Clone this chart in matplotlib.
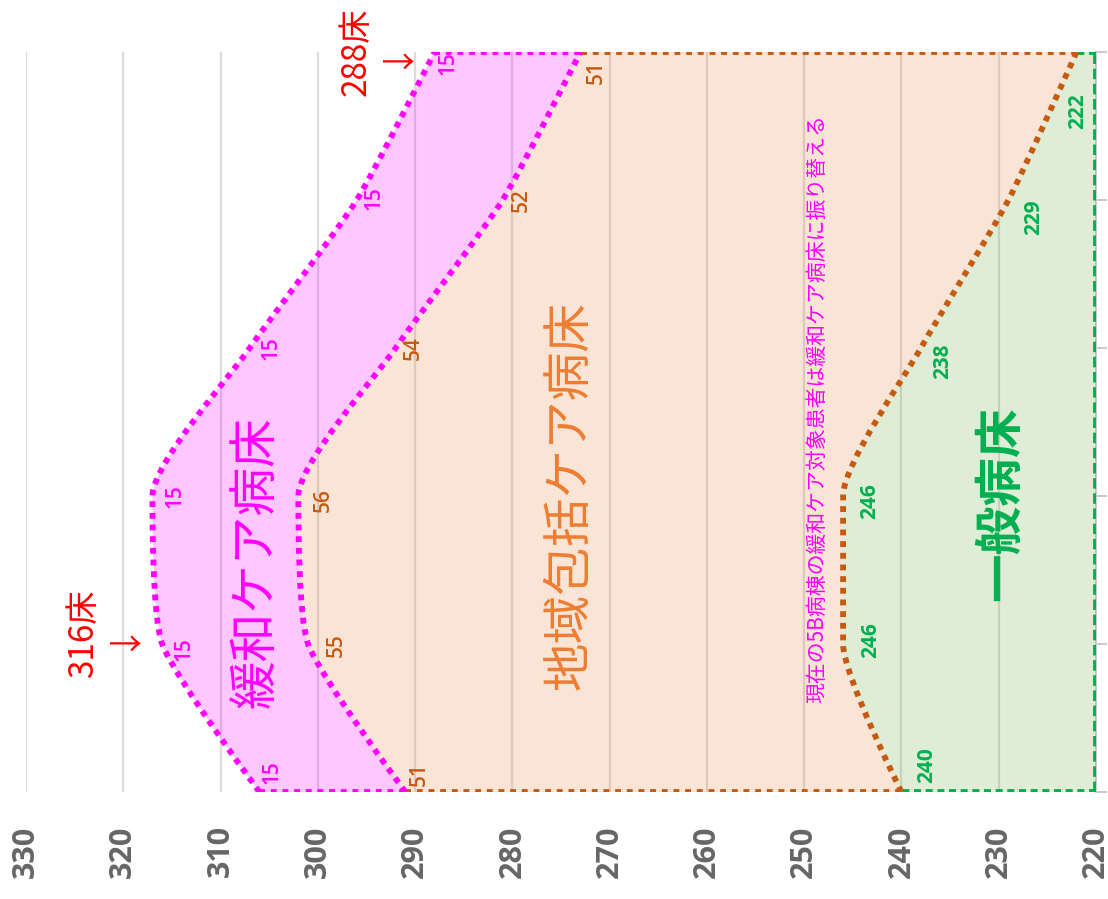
"""
Bed plan chart (stacked smooth areas, drawn rotated: value axis runs along the bottom).
Saved as: out.png
"""
import numpy as np
import matplotlib
matplotlib.use("Agg")
import matplotlib.pyplot as plt
from matplotlib.path import Path
from matplotlib.patches import PathPatch

CJK = ["Noto Sans CJK JP", "DejaVu Sans"]
NUM = ["Open Sans", "DejaVu Sans"]

# ── data ────────────────────────────────────────────────────────────────
SLOTS      = [0, 1, 2, 3, 4, 5]            # category slots, first one at the bottom
GENERAL    = [240, 246, 246, 238, 229, 222]
COMMUNITY  = [51, 55, 56, 54, 52, 51]
PALLIATIVE = [15, 15, 15, 15, 15, 15]
X_TICKS    = [330, 320, 310, 300, 290, 280, 270, 260, 250, 240, 230, 220]
TOTAL_MARKS = [1, 5]                        # slots that get the "N床" callout

NAMES = ["一般病床", "地域包括ケア病床", "緩和ケア病床"]
NOTE  = "現在の5B病棟の緩和ケア対象患者は緩和ケア病床に振り替える"

# ── style ───────────────────────────────────────────────────────────────
MAGENTA = "#FF00FF"
BROWN   = "#C55A11"
ORANGE  = "#ED7D31"
GREEN   = "#00B050"
FILL_G  = (0x70 / 255, 0xAD / 255, 0x47 / 255, 0.22)
FILL_C  = (0xE8 / 255, 0x80 / 255, 0x40 / 255, 0.21)
FILL_P  = (1.0, 0.0, 1.0, 0.22)
GRID    = "#DCDCDC"
TICK_C  = "#666666"
SMOOTH  = 0.2

# value-label offsets in pixels (right, down) for each slot
OFF_P = [(13, -20), (22, 5), (23, 0), (21, 0), (17, -2), (13, 11)]
OFF_C = [(14, -18), (28, 1), (25, 4), (18, 0), (19, 0), (16, 20)]
OFF_G = [(25, -27), (28, -4), (27, 5), (22, 13), (25, 17), (1, 59)]

W, H = 1108, 899
fig = plt.figure(figsize=(W / 100, H / 100), dpi=100, facecolor="white")
L, R, T, B = 26, 1096, 52, 792
ax = fig.add_axes([L / W, (H - B) / H, (R - L) / W, (B - T) / H])
ax.set_xlim(330, 220)
ax.set_ylim(SLOTS[0], SLOTS[-1])

base = np.full(len(SLOTS), 220.0)
lvl1 = np.array(GENERAL, float)
lvl2 = lvl1 + np.array(COMMUNITY)
lvl3 = lvl2 + np.array(PALLIATIVE)
ys = np.array(SLOTS, float)


def smooth_segments(xs):
    """ECharts-like bezier smoothing, worked out in pixel space."""
    pts = ax.transData.transform(np.column_stack([xs, ys]))
    segs = []
    cp0 = pts[0]
    for i in range(1, len(pts)):
        prev, cur = pts[i - 1], pts[i]
        if i == len(pts) - 1:
            cp1, ncp0 = cur, None
        else:
            nxt = pts[i + 1]
            v = nxt - prev
            lp = np.hypot(*(cur - prev))
            ln = np.hypot(*(nxt - cur))
            r = ln / (ln + lp)
            ncp0 = cur + v * SMOOTH * r
            ncp0 = np.maximum(np.minimum(ncp0, np.maximum(nxt, cur)), np.minimum(nxt, cur))
            cp1 = cur - (ncp0 - cur) * lp / ln
            cp1 = np.maximum(np.minimum(cp1, np.maximum(prev, cur)), np.minimum(prev, cur))
            ncp0 = cur + (cur - cp1) * ln / lp
        segs.append((cp0, cp1, cur))
        cp0 = ncp0
    inv = ax.transData.inverted()
    start = inv.transform(pts[0])
    return start, [tuple(inv.transform(p) for p in s) for s in segs]


def curve_path(xs):
    start, segs = smooth_segments(xs)
    verts, codes = [start], [Path.MOVETO]
    for c0, c1, p in segs:
        verts += [c0, c1, p]
        codes += [Path.CURVE4] * 3
    return verts, codes


def area_path(lo, hi):
    verts, codes = curve_path(hi)
    start, segs = smooth_segments(lo)
    pts = [start] + [s[2] for s in segs]
    verts.append(pts[-1]); codes.append(Path.LINETO)
    for k in range(len(segs) - 1, -1, -1):
        c0, c1, _ = segs[k]
        verts += [c1, c0, pts[k]]
        codes += [Path.CURVE4] * 3
    verts.append(verts[0]); codes.append(Path.CLOSEPOLY)
    return Path(verts, codes)


# ── fills ───────────────────────────────────────────────────────────────
for lo, hi, fc in [(base, lvl1, FILL_G), (lvl1, lvl2, FILL_C), (lvl2, lvl3, FILL_P)]:
    ax.add_patch(PathPatch(area_path(lo, hi), facecolor=fc, edgecolor="none", zorder=1))

# ── boundary lines ──────────────────────────────────────────────────────
LW = 4.2
DOT = (0, (1, 1))
for xs, col in [(lvl1, BROWN), (lvl2, MAGENTA), (lvl3, MAGENTA)]:
    v, c = curve_path(xs)
    ax.add_patch(PathPatch(Path(v, c), facecolor="none", edgecolor=col,
                           lw=LW, linestyle=DOT, capstyle="butt", zorder=3))

# edges of each band at first / last slot (half clipped by the frame)
for s in (0, -1):
    ax.plot([base[s], lvl1[s]], [ys[s]] * 2, color=GREEN, lw=LW,
            linestyle=(0, (1.2, 0.8)), zorder=2)
    ax.plot([lvl1[s], lvl2[s]], [ys[s]] * 2, color=BROWN, lw=LW,
            linestyle=DOT, zorder=2)
    ax.plot([lvl2[s], lvl3[s]], [ys[s]] * 2, color=MAGENTA, lw=LW,
            linestyle=DOT, zorder=2)
ax.plot(base, ys, color=GREEN, lw=LW, linestyle=(0, (1.8, 0.8)), zorder=2)

# ── value labels ────────────────────────────────────────────────────────
for vals, tops, offs, col, wt in [(PALLIATIVE, lvl3, OFF_P, MAGENTA, "semibold"),
                                  (COMMUNITY, lvl2, OFF_C, BROWN, "semibold"),
                                  (GENERAL, lvl1, OFF_G, GREEN, "bold")]:
    for v, x, y, (dx, dy) in zip(vals, tops, ys, offs):
        ax.annotate(str(v), xy=(x, y), xytext=(dx, -dy), textcoords="offset pixels",
                    rotation=90, ha="center", va="center", fontsize=15,
                    color=col, fontweight=wt, family=NUM, zorder=5,
                    annotation_clip=False)

# ── totals callouts ─────────────────────────────────────────────────────
for s, dy in zip(TOTAL_MARKS, [10, 0]):
    ax.annotate(f"{int(lvl3[s])}床\n↓", xy=(lvl3[s] + 6.2, ys[s]),
                xytext=(0, dy), textcoords="offset pixels",
                rotation=90, ha="center", va="center", fontsize=24,
                color="red", family=CJK, linespacing=1.05,
                annotation_clip=False, zorder=5)

# ── band names ──────────────────────────────────────────────────────────
ax.text(229.8, 1.95, NAMES[0], rotation=90, ha="center", va="center",
        fontsize=35, color=GREEN, fontweight="bold", family=CJK, zorder=5)
ax.text(274.1, 2.0, NAMES[1], rotation=90, ha="center", va="center",
        fontsize=35, color=ORANGE, family=CJK, zorder=5)
ax.text(306.4, 1.55, NAMES[2], rotation=90, ha="center", va="center",
        fontsize=35, color=MAGENTA, family=CJK, zorder=5)
ax.text(248.7, 2.59, NOTE, rotation=90, ha="center", va="center",
        fontsize=15, color=MAGENTA, family=CJK, zorder=5)

# ── axes cosmetics ──────────────────────────────────────────────────────
ax.set_xticks(X_TICKS)
ax.set_xticklabels([str(t) for t in X_TICKS], rotation=90, fontsize=22,
                   fontweight="bold", color=TICK_C, family=NUM)
ax.tick_params(axis="x", length=0, pad=24)
ax.grid(axis="x", color=GRID, lw=1.6)
ax.set_axisbelow(True)

ax.yaxis.tick_right()
ax.set_yticks(SLOTS)
ax.set_yticklabels([])
ax.tick_params(axis="y", direction="out", length=8, width=1.5, colors="#CCCCCC")
for side in ("top", "left", "bottom"):
    ax.spines[side].set_visible(False)
ax.spines["right"].set_color("#CCCCCC")
ax.spines["right"].set_linewidth(1.5)
ax.spines["right"].set_zorder(0.6)

fig.savefig("out.png", dpi=100, facecolor="white")
